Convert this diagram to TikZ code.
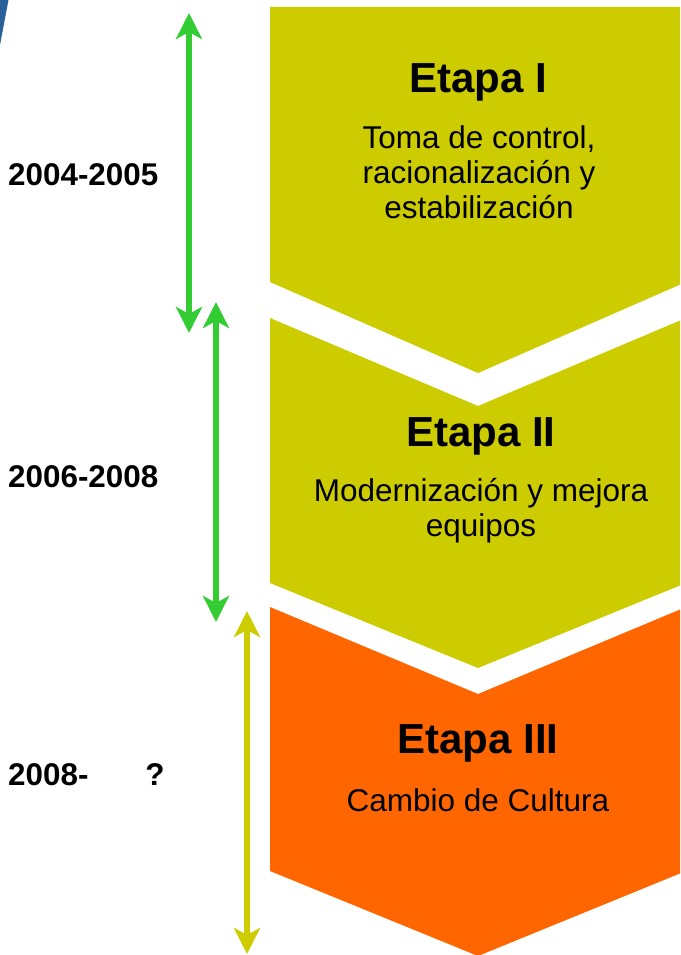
\documentclass[tikz,border=0pt]{standalone}
\usepackage{fontspec}
\setmainfont{Liberation Sans}
\usetikzlibrary{arrows.meta}
\definecolor{stageolive}{RGB}{204,204,0}
\definecolor{stageorange}{RGB}{255,102,0}
\definecolor{spangreen}{RGB}{51,204,51}
\definecolor{cornerblue}{RGB}{42,96,153}
\tikzset{
    stage-title/.style = {font=\fontsize{42}{48}\selectfont\bfseries, inner sep=0pt, anchor=base},
    stage-text/.style = {font=\fontsize{31.5}{35}\selectfont, align=center, inner sep=0pt, anchor=north},
    year-label/.style = {font=\fontsize{31.4}{36}\selectfont\bfseries, inner sep=0pt, anchor=base west},
    span-arrow/.style = {line width=6pt, {Stealth[length=26pt,width=26pt,inset=7pt]}-{Stealth[length=26pt,width=26pt,inset=7pt]}},
}

\begin{document}
\begin{tikzpicture}[x=1pt, y=-1pt]
\useasboundingbox (0,0) rectangle (680,955);
\clip (0,0) rectangle (680,955);
\fill[cornerblue] (0,0) -- (8.5,0) -- (0,45) -- cycle;
\fill[stageolive] (270,7) -- (686,7) -- (686,282) -- (478,373) -- (270,282) -- cycle;
\fill[stageolive] (270,318) -- (478,406) -- (686,318) -- (686,583) -- (478,668) -- (270,583) -- cycle;
\fill[stageorange] (270,607) -- (478,694) -- (686,607) -- (686,871) -- (478,956) -- (270,871) -- cycle;

\node[stage-title] (title-one) at (478,93) {Etapa I};
\node[stage-text] (text-one) at (479,125) {Toma de control,\\racionalización y\\estabilización};
\node[stage-title] (title-two) at (481,446) {Etapa II};
\node[stage-text] (text-two) at (481,478) {Modernización y mejora\\equipos};
\node[stage-title] (title-three) at (478,753) {Etapa III};
\node[stage-text] (text-three) at (478,788) {Cambio de Cultura};

\node[year-label] (year-one) at (8,185) {2004-2005};
\node[year-label] (year-two) at (8,487) {2006-2008};
\node[year-label] (year-three) at (8,785) {2008-\hspace{57pt}?};

\coordinate (one-top) at (189,13);
\coordinate (one-bottom) at (189,333);
\coordinate (two-top) at (216,302);
\coordinate (two-bottom) at (216,622);
\coordinate (three-top) at (247,611);
\coordinate (three-bottom) at (247,954);
\draw[span-arrow, spangreen] (one-top) -- (one-bottom);
\draw[span-arrow, spangreen] (two-top) -- (two-bottom);
\draw[span-arrow, stageolive] (three-top) -- (three-bottom);
\end{tikzpicture}
\end{document}
